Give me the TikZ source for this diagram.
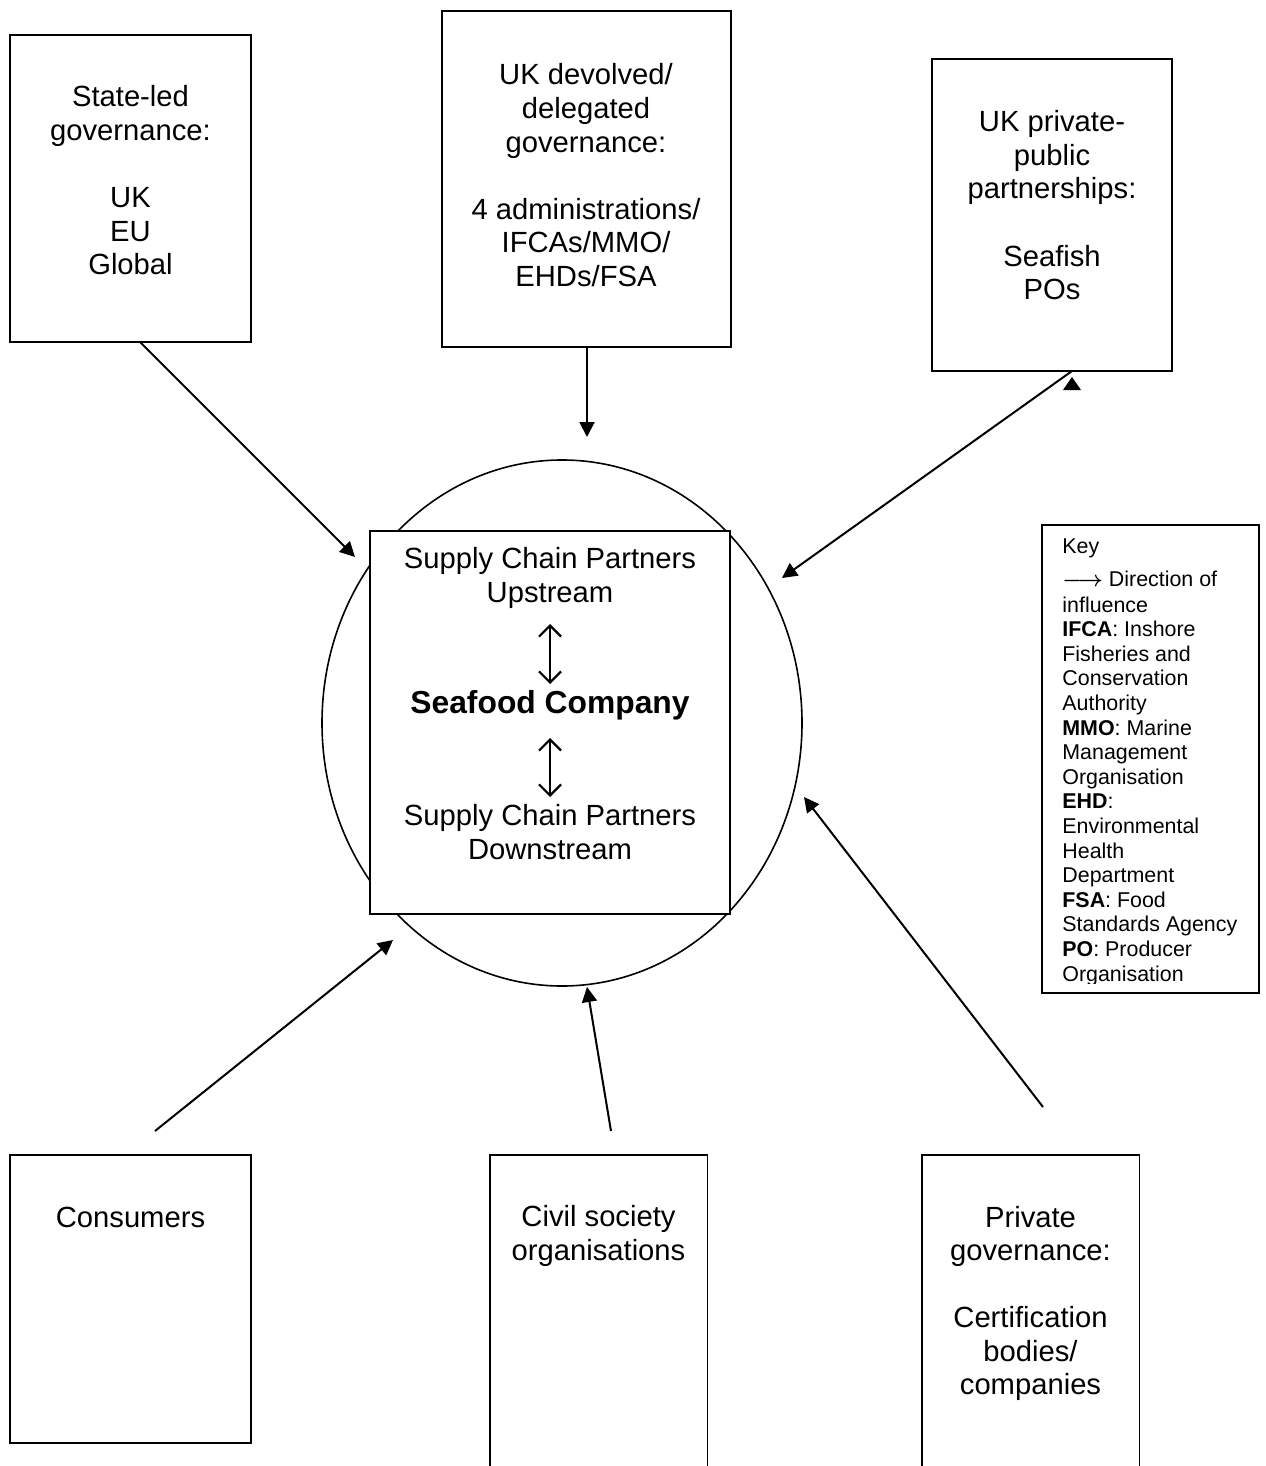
\documentclass[tikz,border=0pt]{standalone}
\usepackage{amsmath}
\usepackage{fontspec}
\setmainfont{Liberation Sans}
\usetikzlibrary{arrows.meta,shapes.geometric}
\begin{document}
\begin{tikzpicture}[x=0.5pt,y=-0.5pt,
  box/.style={draw, line width=0.9pt, inner sep=0pt, rectangle},
  openbox/.style={inner sep=0pt, rectangle},
  lbl/.style={align=center, inner sep=0pt, anchor=base, font=\fontsize{14.6}{16.75}\selectfont},
  infl/.style={line width=1pt, -{Triangle[length=7.5pt,width=7.5pt]}},
  chain/.style={line width=1.1pt, {Straight Barb[length=5.5pt,width=11pt]}-{Straight Barb[length=5.5pt,width=11pt]}},
  sides/.style={line width=0.9pt}
]
\useasboundingbox (0,0) rectangle (1265,1466);
\fill[white] (0,0) rectangle (1265,1466);

% top boxes (text nodes anchored at the baseline of their last line)
\node[box, minimum width=120.5pt, minimum height=153.5pt] (state) at (130.5,188.5) {};
\node[lbl] (statetxt) at (130.5,274.5) {State-led\\governance:\\[16.75pt]UK\\EU\\Global};

\node[box, minimum width=144.5pt, minimum height=168pt] (dev) at (586.5,179) {};
\node[lbl] (devtxt) at (586,286) {UK devolved/\\delegated\\governance:\\[16.75pt]4 administrations/\\IFCAs/MMO/\\EHDs/FSA};

\node[box, minimum width=120pt, minimum height=156pt] (ppp) at (1052,215) {};
\node[lbl] (ppptxt) at (1052,299.5) {UK private-\\public\\partnerships:\\[16.75pt]Seafish\\POs};

% centre
\node[ellipse, draw, line width=0.8pt, minimum width=240pt, minimum height=263pt, inner sep=0pt] (circ) at (562,723) {};
\node[box, fill=white, minimum width=180pt, minimum height=191.5pt] (core) at (550,722.5) {};
\node[lbl] (up) at (550,602) {Supply Chain Partners\\Upstream};
\node[anchor=base, inner sep=0pt, font=\bfseries\fontsize{15.9}{18}\selectfont] (sea) at (550,713) {Seafood Company};
\node[lbl] (down) at (550,859) {Supply Chain Partners\\Downstream};
\coordinate (c1a) at (550,624);
\coordinate (c1b) at (550,684);
\coordinate (c2a) at (550,738);
\coordinate (c2b) at (550,797);
\draw[chain] (c1a) -- (c1b);
\draw[chain] (c2a) -- (c2b);

% key
\node[box, minimum width=108.5pt, minimum height=234pt] (key) at (1150.5,759) {};
\begin{scope}
\clip (1042,525) rectangle (1259,983.5);
\node[anchor=base west, align=left, inner sep=0pt, font=\fontsize{10.7}{12.3}\selectfont] (keytxt) at (1062,981)
{Key\\[4.2pt]$\boldsymbol{\longrightarrow}$ Direction of\\[0.7pt]influence\\\textbf{IFCA}: Inshore\\Fisheries and\\Conservation\\Authority\\\textbf{MMO}: Marine\\Management\\Organisation\\\textbf{EHD}:\\Environmental\\Health\\Department\\\textbf{FSA}: Food\\Standards Agency\\\textbf{PO}: Producer\\Organisation};
\end{scope}

% bottom boxes
\node[box, minimum width=120.5pt, minimum height=144pt] (cons) at (130.5,1299) {};
\node[lbl] (constxt) at (130.5,1227) {Consumers};

\node[openbox, minimum width=108.5pt, minimum height=155.5pt] (civil) at (598.5,1310.5) {};
\draw[sides] (civil.south west) -- (civil.north west) -- (civil.north east) -- (civil.south east);
\node[lbl] (civiltxt) at (598.5,1260) {Civil society\\organisations};

\node[openbox, minimum width=108.5pt, minimum height=155.5pt] (priv) at (1030.5,1310.5) {};
\draw[sides] (priv.south west) -- (priv.north west) -- (priv.north east) -- (priv.south east);
\node[lbl] (privtxt) at (1030.5,1394.5) {Private\\governance:\\[16.75pt]Certification\\bodies/\\companies};

% influence arrows
\coordinate (s1) at (140,342);
\coordinate (s2) at (355,557);
\coordinate (d1) at (587,347);
\coordinate (d2) at (587,437);
\coordinate (p1) at (1072,371);
\coordinate (p2) at (782,578);
\coordinate (k1) at (155,1131);
\coordinate (k2) at (393,940);
\coordinate (v1) at (611,1131);
\coordinate (v2) at (587,987);
\coordinate (r1) at (1043,1107);
\coordinate (r2) at (804,797);
\draw[infl] (s1) -- (s2);
\draw[infl] (d1) -- (d2);
\draw[infl] (p1) -- (p2);
\draw[infl] (k1) -- (k2);
\draw[infl] (v1) -- (v2);
\draw[infl] (r1) -- (r2);
\coordinate (t1) at (1072,377);
\coordinate (t2) at (1081,390);
\coordinate (t3) at (1063,390);
\fill (t1) -- (t2) -- (t3) -- cycle;
\end{tikzpicture}
\end{document}
